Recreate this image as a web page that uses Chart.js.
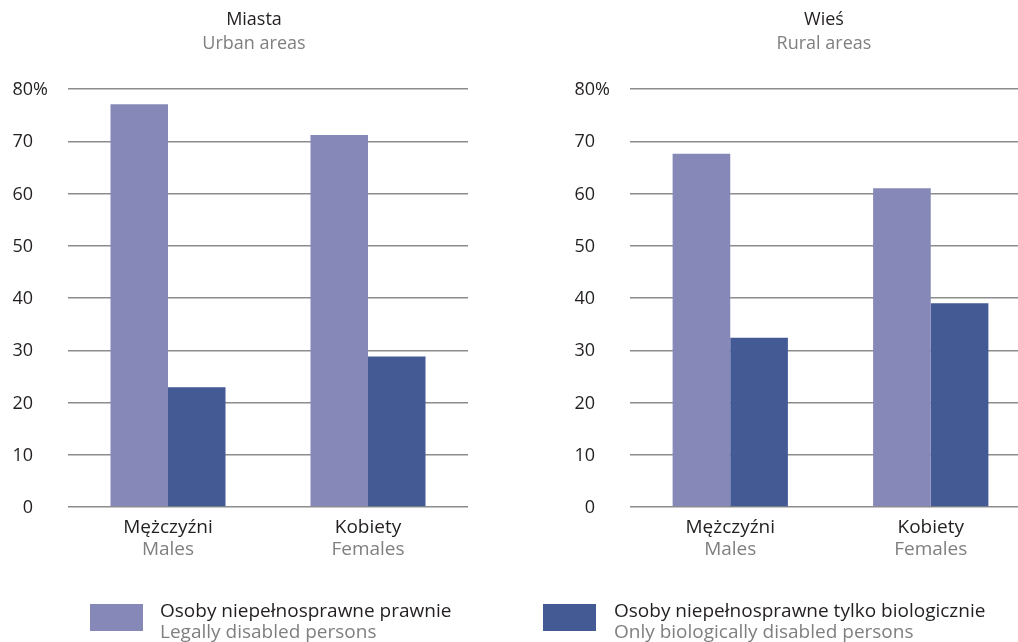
<!DOCTYPE html>
<html>
<head>
<meta charset="utf-8">
<script src="https://cdn.jsdelivr.net/npm/chart.js@4"></script>
<style>
  html, body { margin: 0; padding: 0; background: #fff; overflow: hidden; }
  #wrap { position: relative; width: 1018px; height: 642px; overflow: hidden; font-family: "Open Sans", sans-serif; }
  #c1 { position: absolute; left: 0; top: 0; }
  #c2 { position: absolute; left: 509px; top: 0; }
  .leg { position: absolute; top: 604px; }
  .sw { position: absolute; left: 0; top: 0; width: 53px; height: 27px; }
  .lt { position: absolute; top: -4px; white-space: nowrap; font-size: 19px; line-height: 21px; color: #231f20; }
  .lt span { display: block; color: #7f7f7f; }
</style>
</head>
<body>
<div id="wrap">
  <canvas id="c1" width="509" height="642"></canvas>
  <canvas id="c2" width="530" height="642"></canvas>
  <div class="leg" style="left:90px"><div class="sw" style="background:#8689B8"></div>
    <div class="lt" style="left:70px">Osoby niepełnosprawne prawnie<span>Legally disabled persons</span></div></div>
  <div class="leg" style="left:543px"><div class="sw" style="background:#435A95"></div>
    <div class="lt" style="left:71px">Osoby niepełnosprawne tylko biologicznie<span>Only biologically disabled persons</span></div></div>
</div>
<script>
const categoriesPl = ['Mężczyźni', 'Kobiety'];
const categoriesEn = ['Males', 'Females'];
const yTicks = [0, 10, 20, 30, 40, 50, 60, 70, 80];

const urbanLegal = [77.1, 71.2];
const urbanBio = [22.9, 28.8];
const ruralLegal = [67.6, 61.0];
const ruralBio = [32.4, 39.0];

const seriesNames = ['Osoby niepełnosprawne prawnie', 'Osoby niepełnosprawne tylko biologicznie'];
const legalColor = '#8689B8';
const bioColor = '#435A95';
const dark = '#231f20';
const grey = '#7f7f7f';
const FONT = '"Open Sans", sans-serif';

// draws titles, y tick labels and two-line category labels
const labelsPlugin = {
    id: 'labels',
    afterDraw(chart, args, opts) {
        const ctx = chart.ctx;
        const area = chart.chartArea;
        const y = chart.scales.y;
        const x = chart.scales.x;
        ctx.save();
        ctx.textBaseline = 'middle';

        ctx.textAlign = 'center';
        ctx.font = '18px ' + FONT;
        ctx.fillStyle = dark;
        ctx.fillText(opts.title, opts.titleX, 20);
        ctx.fillStyle = grey;
        ctx.fillText(opts.subtitle, opts.titleX, 44);

        ctx.font = '18px ' + FONT;
        yTicks.forEach(function (v) {
            const py = y.getPixelForValue(v) + 1;
            ctx.fillStyle = dark;
            ctx.textAlign = 'right';
            ctx.fillText(String(v), area.left - 35, py);
            if (v === yTicks[yTicks.length - 1]) {
                ctx.textAlign = 'left';
                ctx.fillText('%', area.left - 35, py);
            }
        });

        ctx.textAlign = 'center';
        ctx.font = '19px ' + FONT;
        categoriesPl.forEach(function (c, i) {
            const px = x.getPixelForTick(i);
            ctx.fillStyle = dark;
            ctx.fillText(c, px, 528);
            ctx.fillStyle = grey;
            ctx.fillText(categoriesEn[i], px, 550);
        });
        ctx.restore();
    }
};

function makeChart(id, legal, bio, pad, title, subtitle, titleX) {
    const ctx = document.getElementById(id).getContext('2d');
    return new Chart(ctx, {
        type: 'bar',
        data: {
            labels: categoriesPl,
            datasets: [{
                label: seriesNames[0],
                data: legal,
                backgroundColor: legalColor
            }, {
                label: seriesNames[1],
                data: bio,
                backgroundColor: bioColor
            }]
        },
        options: {
            responsive: false,
            animation: false,
            events: [],
            layout: { padding: pad },
            categoryPercentage: 0.575,
            barPercentage: 1.0,
            plugins: {
                legend: { display: false },
                title: { display: false },
                tooltip: { enabled: false },
                labels: { title: title, subtitle: subtitle, titleX: titleX }
            },
            scales: {
                x: {
                    grid: { display: false },
                    border: { display: false },
                    ticks: { display: false }
                },
                y: {
                    min: 0,
                    max: 80,
                    ticks: { display: false, stepSize: 10 },
                    grid: { color: '#8c8c8c', lineWidth: 1.5, drawTicks: false },
                    border: { display: false }
                }
            }
        },
        plugins: [labelsPlugin]
    });
}

makeChart('c1', urbanLegal, urbanBio, { left: 68, right: 41, top: 89, bottom: 127 }, 'Miasta', 'Urban areas', 254);
makeChart('c2', ruralLegal, ruralBio, { left: 121, right: 8, top: 89, bottom: 127 }, 'Wieś', 'Rural areas', 315);
</script>
</body>
</html>
